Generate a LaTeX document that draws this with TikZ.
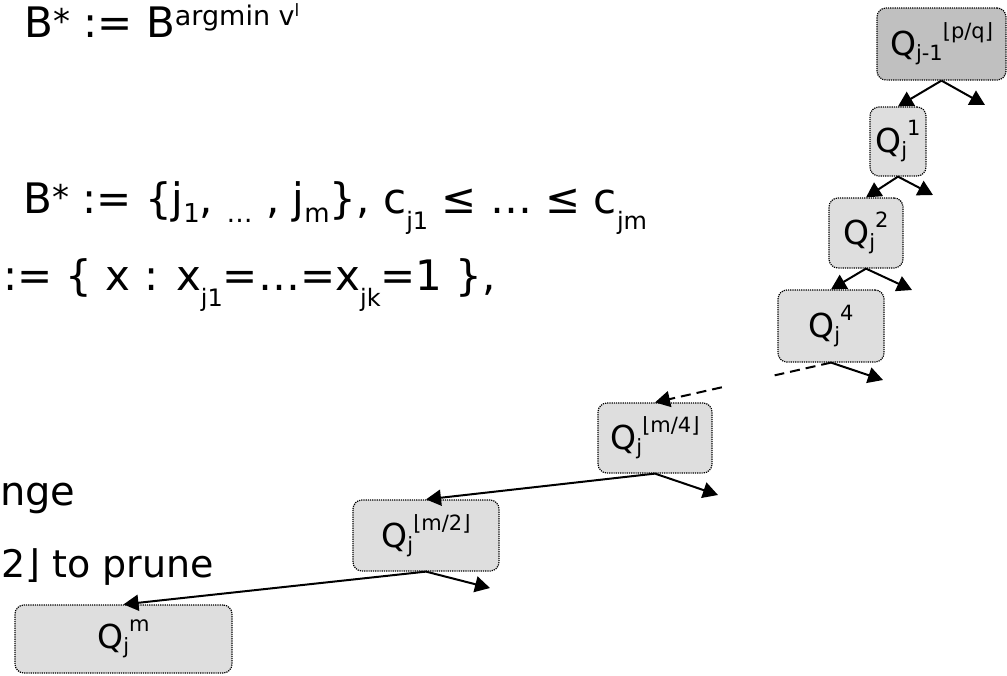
\documentclass[tikz,border=0pt]{standalone}
\usepackage{fontspec}
\setmainfont{DejaVu Sans}
\usepackage{tikz}
\usetikzlibrary{arrows.meta}
\definecolor{boxgray}{HTML}{DEDEDE}
\definecolor{topgray}{HTML}{C0C0C0}
\newcommand{\lowtxt}[3]{\raisebox{-#1}{\fontsize{#2}{#2}\selectfont #3}}
\newcommand{\hightxt}[3]{\raisebox{#1}{\fontsize{#2}{#2}\selectfont #3}}

\begin{document}
\begin{tikzpicture}[x=1pt, y=-1pt,
    qbox/.style={draw, densely dotted, line width=1.2pt, fill=boxgray, rounded corners=9pt, inner sep=0pt, font=\fontsize{33}{38}\selectfont},
    link/.style={-{Triangle[length=15pt,width=16pt]}, line width=2pt},
    slide/.style={anchor=base west, inner sep=0pt, font=\fontsize{42}{50}\selectfont}]
  \useasboundingbox (0,0) rectangle (1007,675);
  \clip (0,0) rectangle (1007,675);
  % slide text, partly cut at the left edge
  \node[slide] (defb) at (24,37) {B\hightxt{4pt}{34}{*} := B\hightxt{12pt}{27}{argmin v\hightxt{9pt}{17}{l}}};
  \node[slide] (sortb) at (23,213) {B\hightxt{4pt}{34}{*} := \{j\lowtxt{9pt}{26}{1}, \lowtxt{9pt}{26}{…} , j\lowtxt{9pt}{26}{m}\}, c\lowtxt{16pt}{24}{j1} ≤ … ≤ c\lowtxt{16pt}{24}{jm}};
  \node[slide] (fixset) at (3,290) {:= \{ x : x\lowtxt{16pt}{24}{j1}=…=x\lowtxt{16pt}{24}{jk}=1 \},};
  \node[slide, font=\fontsize{40}{48}\selectfont] (chg) at (0,505) {nge};
  \node[slide, font=\fontsize{38}{46}\selectfont] (prune) at (1,577) {2⌋ to prune};
  % subproblems
  \node[qbox, fill=topgray, minimum width=129pt, minimum height=72pt] (qprev) at (941.5,44) {Q\lowtxt{5pt}{21}{j-1}\hightxt{17pt}{21}{⌊p/q⌋}};
  \node[qbox, minimum width=56pt, minimum height=69pt] (q1) at (898,141.5) {Q\lowtxt{5pt}{21}{j}\hightxt{17pt}{21}{1}};
  \node[qbox, minimum width=74pt, minimum height=70pt] (q2) at (866,233) {Q\lowtxt{5pt}{21}{j}\hightxt{17pt}{21}{2}};
  \node[qbox, minimum width=106pt, minimum height=72pt] (q4) at (831,326) {Q\lowtxt{5pt}{21}{j}\hightxt{17pt}{21}{4}};
  \node[qbox, minimum width=114pt, minimum height=70pt] (qm4) at (655,438) {Q\lowtxt{5pt}{21}{j}\hightxt{17pt}{21}{⌊m/4⌋}};
  \node[qbox, minimum width=146pt, minimum height=71pt] (qm2) at (426,535.5) {Q\lowtxt{5pt}{21}{j}\hightxt{17pt}{21}{⌊m/2⌋}};
  \node[qbox, minimum width=217pt, minimum height=68pt] (qm) at (123.5,639) {Q\lowtxt{5pt}{21}{j}\hightxt{17pt}{21}{m}};
  % loose right branches
  \coordinate (r0) at (985,105);
  \coordinate (r1) at (933,195);
  \coordinate (r2) at (912,290);
  \coordinate (r4) at (883,380);
  \coordinate (rm4) at (718,495);
  \coordinate (rm2) at (490,588);
  \draw[link] (qprev.south) -- (q1.north);
  \draw[link] (qprev.south) -- (r0);
  \draw[link] (q1.south) -- (q2.north);
  \draw[link] (q1.south) -- (r1);
  \draw[link] (q2.south) -- (q4.north);
  \draw[link] (q2.south) -- (r2);
  \draw[link] (q4.south) -- (r4);
  \path (q4.south) -- coordinate[pos=0.32] (gapa) coordinate[pos=0.62] (gapb) (qm4.north);
  \draw[line width=2pt, dash pattern=on 10pt off 6pt] (q4.south) -- (gapa);
  \draw[link, dash pattern=on 10pt off 6pt] (gapb) -- (qm4.north);
  \draw[link] (qm4.south) -- (qm2.north);
  \draw[link] (qm4.south) -- (rm4);
  \draw[link] (qm2.south) -- (qm.north);
  \draw[link] (qm2.south) -- (rm2);
\end{tikzpicture}
\end{document}
